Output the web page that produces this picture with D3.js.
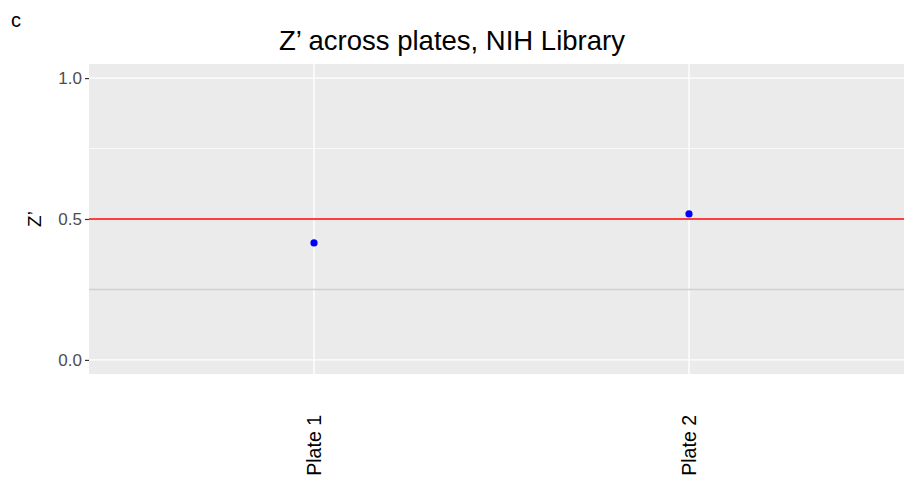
<!DOCTYPE html>
<html>
<head>
<meta charset="utf-8">
<title>Z' across plates, NIH Library</title>
<script src="https://d3js.org/d3.v7.min.js"></script>
<style>
body {margin:0; background:white;}
svg {font-family:"Liberation Sans", Arial, sans-serif; display:block;}
</style>
</head>
<body>
<svg width="904" height="482"></svg>
<script>
// data
var plates = ["Plate 1", "Plate 2"];
var zprime = [0.415, 0.518];
var yTicks = [0.0, 0.5, 1.0];
var yMinor = [0.25, 0.75];
var threshold = 0.5;
var lowLine = 0.25;

var svg = d3.select("svg");
var leftM = 89, topM = 64, bottomM = 374, rightM = 914;

var x = d3.scalePoint().domain(plates).range([leftM, rightM]).padding(0.6);
var y = d3.scaleLinear().domain([-0.05, 1.05]).range([bottomM, topM]);

// panel
svg.append("rect")
  .attr("x", leftM).attr("y", topM)
  .attr("width", rightM - leftM).attr("height", bottomM - topM)
  .attr("fill", "#EBEBEB");

svg.selectAll(".minor")
  .data(yMinor)
  .enter().append("line")
  .attr("x1", leftM).attr("x2", rightM)
  .attr("y1", function(d) { return y(d); })
  .attr("y2", function(d) { return y(d); })
  .attr("stroke", "white").attr("stroke-width", 0.7);

svg.selectAll(".major")
  .data(yTicks)
  .enter().append("line")
  .attr("x1", leftM).attr("x2", rightM)
  .attr("y1", function(d) { return y(d); })
  .attr("y2", function(d) { return y(d); })
  .attr("stroke", "white").attr("stroke-width", 1.4);

svg.selectAll(".vgrid")
  .data(plates)
  .enter().append("line")
  .attr("x1", function(d) { return x(d); })
  .attr("x2", function(d) { return x(d); })
  .attr("y1", topM).attr("y2", bottomM)
  .attr("stroke", "white").attr("stroke-width", 1.4);

// reference lines
svg.append("line")
  .attr("x1", leftM).attr("x2", rightM)
  .attr("y1", y(lowLine)).attr("y2", y(lowLine))
  .attr("stroke", "#D0D0D0").attr("stroke-width", 1.6);
svg.append("line")
  .attr("x1", leftM).attr("x2", rightM)
  .attr("y1", y(threshold)).attr("y2", y(threshold))
  .attr("stroke", "#FF0000").attr("stroke-width", 1.6);

// points
svg.selectAll(".pt")
  .data(plates)
  .enter().append("circle")
  .attr("cx", function(d) { return x(d); })
  .attr("cy", function(d, i) { return y(zprime[i]); })
  .attr("r", 3.6)
  .attr("fill", "#0000FF");

// axes
var yAxis = d3.axisLeft(y).tickValues(yTicks).tickFormat(d3.format(".1f")).tickSize(4).tickPadding(3);
var gy = svg.append("g").attr("transform", "translate(" + leftM + ",0)").call(yAxis);
gy.select(".domain").remove();
gy.selectAll(".tick line").attr("stroke", "#333333").attr("stroke-width", 1.2);
gy.selectAll(".tick text").attr("fill", "#4D4D4D").style("font-size", "17px")
  .style("font-family", "Liberation Sans, Arial, sans-serif");

var xAxis = d3.axisBottom(x).tickSize(0).tickPadding(3);
var gx = svg.append("g").attr("transform", "translate(0," + bottomM + ")").call(xAxis);
gx.select(".domain").remove();
gx.selectAll(".tick line").remove();
gx.selectAll(".tick text")
  .attr("fill", "#000000")
  .style("font-size", "19.5px")
  .style("font-family", "Liberation Sans, Arial, sans-serif")
  .attr("transform", "rotate(-90)")
  .attr("text-anchor", "end")
  .attr("dy", "0.35em")
  .attr("x", -41)
  .attr("y", 0);

// labels
svg.append("text")
  .attr("x", 452).attr("y", 50)
  .attr("text-anchor", "middle")
  .style("font-size", "27.5px")
  .text("Z’ across plates, NIH Library");

svg.append("text")
  .attr("x", 11).attr("y", 27)
  .style("font-size", "20px")
  .text("c");

svg.append("text")
  .attr("transform", "translate(41," + y(0.5) + ") rotate(-90)")
  .attr("text-anchor", "middle")
  .style("font-size", "19px")
  .text("Z’");
</script>
</body>
</html>
